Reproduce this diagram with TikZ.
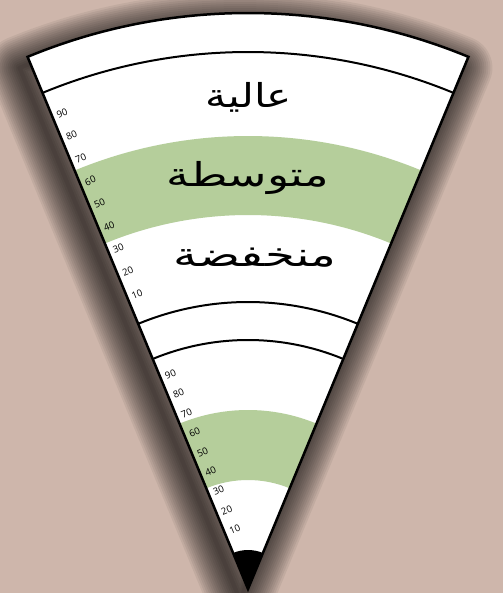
\documentclass[tikz,border=0pt]{standalone}
\usepackage{fontspec}
\usetikzlibrary{calc}
\setmainfont{Open Sans}
\newfontfamily\arabicfont[Script=Arabic]{DejaVu Sans}
\TeXXeTstate=1
\definecolor{bgc}{RGB}{206,182,171}
\definecolor{bandgreen}{RGB}{181,206,155}
\begin{document}
\begin{tikzpicture}[x=1pt,y=1pt,
  arcline/.style={line width=2pt},
  tick/.style={font=\fontsize{9.5}{10}\selectfont, rotate=22.5, inner sep=0pt},
  word/.style={font=\arabicfont\fontsize{33}{35}\selectfont, anchor=base, inner sep=0pt}]
\useasboundingbox (-248,-4) rectangle (255,589);
\fill[bgc] (-248,-4) rectangle (255,589);
% shadow
\begin{scope}[shift={(-8,-11)}]
\foreach \w in {4,8,...,64}{
  \draw[black, line width=\w pt, line join=round, draw opacity=0.06]
    (0,0) -- (67.5:576) arc[start angle=67.5, end angle=112.5, radius=576] -- cycle;
}
\end{scope}
% wedge
\fill[white] (0,0) -- (67.5:576) arc[start angle=67.5, end angle=112.5, radius=576] -- cycle;
% green bands
\fill[bandgreen] (67.5:374) -- (67.5:453) arc[start angle=67.5, end angle=112.5, radius=453]
  -- (112.5:374) arc[start angle=112.5, end angle=67.5, radius=374] -- cycle;
\fill[bandgreen] (67.5:109) -- (67.5:179) arc[start angle=67.5, end angle=112.5, radius=179]
  -- (112.5:109) arc[start angle=112.5, end angle=67.5, radius=109] -- cycle;
% black cap
\fill[black] (0,0) -- (67.5:39) arc[start angle=67.5, end angle=112.5, radius=39] -- cycle;
% arcs
\foreach \r in {537,287,249}{
  \draw[arcline] (67.5:\r) arc[start angle=67.5, end angle=112.5, radius=\r];
}
% outline
\draw[line width=2.5pt, line join=miter]
  (0,0) -- (67.5:576) arc[start angle=67.5, end angle=112.5, radius=576] -- cycle;
% scale labels
\foreach \v in {10,20,...,90}{
  \node[tick] (u\v) at ($(112.5:290.5+2.45*\v)+(22.5:10.5)$) {\v};
  \node[tick] (l\v) at ($(112.5:39+2.1*\v)+(22.5:10.5)$) {\v};
}
% words
\node[word, xscale=1.28] (high) at (1,481) {\beginR عالية\endR};
\node[word, xscale=1.39] (mid) at (0,402) {\beginR متوسطة\endR};
\node[word, xscale=1.46] (low) at (7,322) {\beginR منخفضة\endR};
\end{tikzpicture}
\end{document}
